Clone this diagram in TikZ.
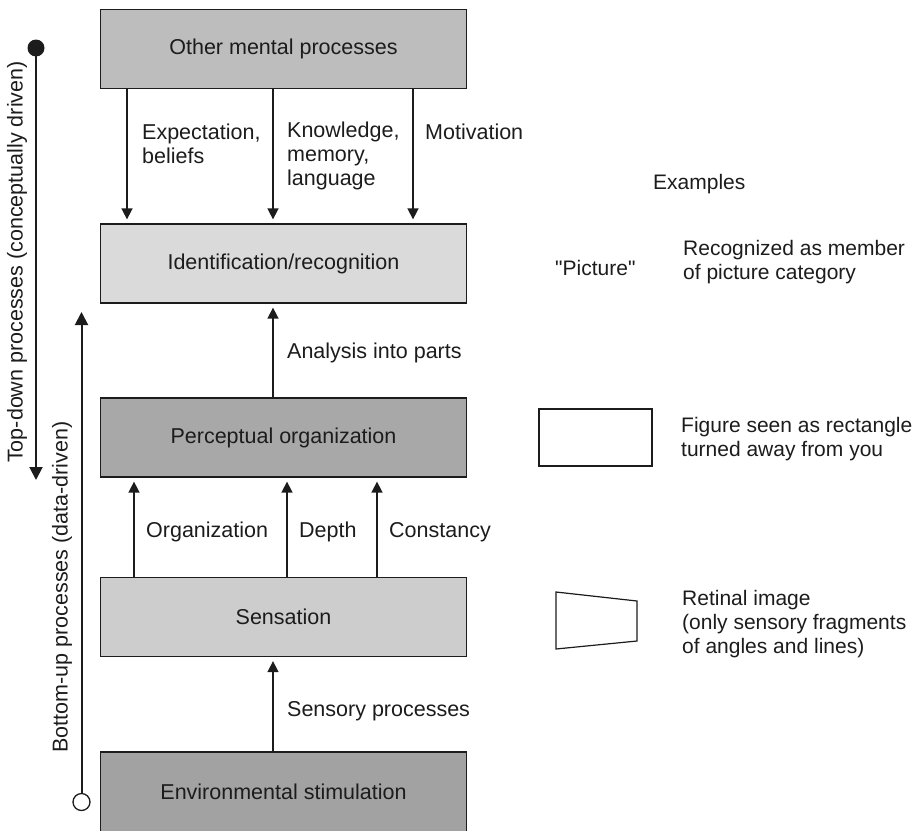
\documentclass[tikz,border=0pt]{standalone}
\usepackage{fontspec}
\setmainfont{Liberation Sans}
% same face without TeX ligature mapping, so " stays a straight quote
\newfontfamily\plainsans{Liberation Sans}
\usetikzlibrary{arrows.meta}
\definecolor{inkc}{HTML}{1C1C1C}
\definecolor{midgray}{HTML}{BDBDBD}
\definecolor{palegray}{HTML}{DADADA}
\definecolor{darkgray}{HTML}{A8A8A8}
\definecolor{softgray}{HTML}{CDCDCD}
\definecolor{deepgray}{HTML}{A2A2A2}
\begin{document}
\begin{tikzpicture}[x=1pt,y=-1pt,
  font=\fontsize{21.5}{24}\selectfont,
  stage/.style={draw=inkc, line width=1.3pt, minimum width=366pt,
    minimum height=79pt, inner sep=0pt, text=inkc},
  lbl/.style={anchor=west, align=left, inner sep=0pt, text=inkc},
  note/.style={lbl, font=\fontsize{21}{24}\selectfont},
  flow/.style={draw=inkc, line width=1.6pt,
    -{Triangle[length=11pt,width=11pt]}, shorten >=4pt},
  sideflow/.style={draw=inkc, line width=2pt,
    -{Triangle[length=13pt,width=13pt]}},
  sample/.style={draw=inkc, line width=1.2pt}
]
\useasboundingbox (0,0) rectangle (912,830);
\clip (0,0) rectangle (912,830);

% processing stages
\node[stage, fill=midgray]  (other)  at (283.5,49)    {Other mental processes};
\node[stage, fill=palegray] (ident)  at (283.5,263.5) {Identification/recognition};
\node[stage, fill=darkgray] (percep) at (283.5,437.5) {Perceptual organization};
\node[stage, fill=softgray] (sens)   at (283.5,617)   {Sensation};
\node[stage, fill=deepgray, minimum height=80pt] (env) at (283.5,792) {Environmental stimulation};

% top-down influences
\draw[flow] ([xshift=-156.5pt]other.south) -- ([xshift=-156.5pt]ident.north);
\draw[flow] ([xshift=-10.5pt]other.south)  -- ([xshift=-10.5pt]ident.north);
\draw[flow] ([xshift=129.5pt]other.south)  -- ([xshift=129.5pt]ident.north);
\node[lbl] (expect) at (142,144) {Expectation,\\beliefs};
\node[lbl] (know)   at (287,156) {Knowledge,\\memory,\\language};
\node[lbl] (motiv)  at (425,132) {Motivation};

% bottom-up flow
\draw[flow] ([xshift=-10.5pt]percep.north) -- ([xshift=-10.5pt]ident.south);
\node[lbl] (analysis) at (287,353) {Analysis into parts};

\draw[flow] ([xshift=-149.5pt]sens.north) -- ([xshift=-149.5pt]percep.south);
\draw[flow] ([xshift=3.5pt]sens.north)    -- ([xshift=3.5pt]percep.south);
\draw[flow] ([xshift=93.5pt]sens.north)   -- ([xshift=93.5pt]percep.south);
\node[lbl] (organ) at (146,532) {Organization};
\node[lbl] (depth) at (299,532) {Depth};
\node[lbl] (const) at (389,532) {Constancy};

\draw[flow] ([xshift=-10.5pt]env.north) -- ([xshift=-10.5pt]sens.south);
\node[lbl] (sensory) at (287,711) {Sensory processes};

% side axes
\coordinate (tdtip) at (36,480);
\coordinate (butip) at (81.5,312);
\node[circle, fill=inkc, inner sep=0pt, minimum size=17pt] (tdcap) at (36,48) {};
\node[circle, draw=inkc, fill=white, line width=1.3pt, inner sep=0pt,
  minimum size=17pt] (bucap) at (81.5,802) {};
\draw[sideflow] (tdcap.center) -- (tdtip);
\draw[sideflow] (bucap.north) -- (butip);
\node[rotate=90, inner sep=0pt, text=inkc] (tdlabel) at (17,262)
  {Top-down processes (conceptually driven)};
\node[rotate=90, inner sep=0pt, text=inkc] (bulabel) at (62,587)
  {Bottom-up processes (data-driven)};

% examples column
\node[note] (examples) at (653,184) {Examples};
\node[note] (picture)  at (555,268) {\plainsans "Picture"};
\node[note] (recog)    at (683,262) {Recognized as member\\of picture category};

\draw[sample] (539,409) rectangle (652,466);
\node[note] (figure) at (681,439) {Figure seen as rectangle\\turned away from you};

\draw[sample] (556,592) -- (637,601) -- (637,641) -- (556,649) -- cycle;
\node[note] (retinal) at (682,624) {Retinal image\\(only sensory fragments\\of angles and lines)};
\end{tikzpicture}
\end{document}
